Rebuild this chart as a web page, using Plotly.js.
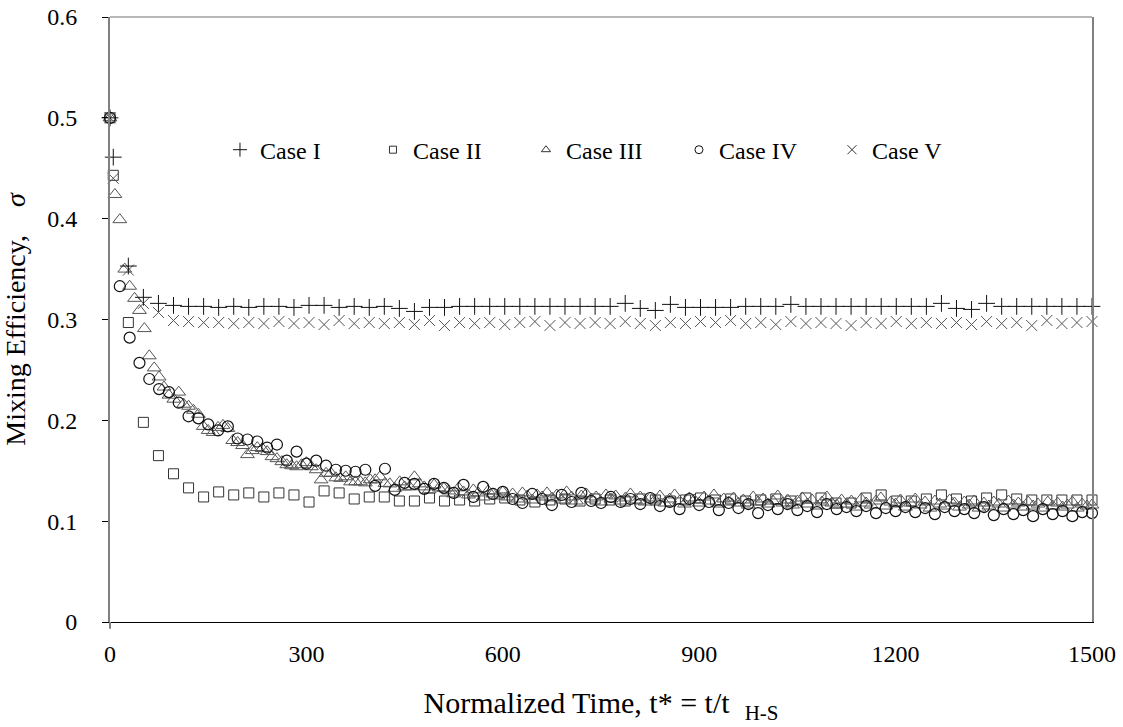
<!DOCTYPE html>
<html>
<head>
<meta charset="utf-8">
<script src="https://cdn.plot.ly/plotly-3.0.1.min.js"></script>
<style>html,body{margin:0;padding:0;background:#fff;}#chart{width:1123px;height:727px;}</style>
</head>
<body>
<div id="chart"></div>
<script>
// Sample times (normalized time t*) for Cases I, II and V
var timeA = [0, 5, 28, 51, 74, 97, 120, 143, 166, 189, 212, 235, 258, 281, 304, 327, 350, 373, 396, 419, 442, 465, 488, 511, 534, 557, 580, 603, 626, 649, 672, 695, 718, 741, 764, 787, 810, 833, 856, 879, 902, 925, 948, 971, 994, 1017, 1040, 1063, 1086, 1109, 1132, 1155, 1178, 1201, 1224, 1247, 1270, 1293, 1316, 1339, 1362, 1385, 1408, 1431, 1454, 1477, 1500];

// Sample times for Case IV
var timeB = [0, 15, 30, 45, 60, 75, 90, 105, 120, 135, 150, 165, 180, 195, 210, 225, 240, 255, 270, 285, 300, 315, 330, 345, 360, 375, 390, 405, 420, 435, 450, 465, 480, 495, 510, 525, 540, 555, 570, 585, 600, 615, 630, 645, 660, 675, 690, 705, 720, 735, 750, 765, 780, 795, 810, 825, 840, 855, 870, 885, 900, 915, 930, 945, 960, 975, 990, 1005, 1020, 1035, 1050, 1065, 1080, 1095, 1110, 1125, 1140, 1155, 1170, 1185, 1200, 1215, 1230, 1245, 1260, 1275, 1290, 1305, 1320, 1335, 1350, 1365, 1380, 1395, 1410, 1425, 1440, 1455, 1470, 1485, 1500];

// Sample times for Case III
var timeC = [0, 7.5, 15, 22.5, 30, 37.5, 45, 52.5, 60, 67.5, 75, 82.5, 90, 97.5, 105, 112.5, 120, 127.5, 135, 142.5, 150, 157.5, 165, 172.5, 180, 187.5, 195, 202.5, 210, 217.5, 225, 232.5, 240, 247.5, 255, 262.5, 270, 277.5, 285, 292.5, 300, 307.5, 315, 322.5, 330, 337.5, 345, 352.5, 360, 367.5, 375, 382.5, 390, 397.5, 405, 412.5, 420, 427.5, 435, 442.5, 450, 457.5, 465, 472.5, 480, 487.5, 495, 502.5, 510, 517.5, 525, 532.5, 540, 547.5, 555, 562.5, 570, 577.5, 585, 592.5, 600, 607.5, 615, 622.5, 630, 637.5, 645, 652.5, 660, 667.5, 675, 682.5, 690, 697.5, 705, 712.5, 720, 727.5, 735, 742.5, 750, 757.5, 765, 772.5, 780, 787.5, 795, 802.5, 810, 817.5, 825, 832.5, 840, 847.5, 855, 862.5, 870, 877.5, 885, 892.5, 900, 907.5, 915, 922.5, 930, 937.5, 945, 952.5, 960, 967.5, 975, 982.5, 990, 997.5, 1005, 1012.5, 1020, 1027.5, 1035, 1042.5, 1050, 1057.5, 1065, 1072.5, 1080, 1087.5, 1095, 1102.5, 1110, 1117.5, 1125, 1132.5, 1140, 1147.5, 1155, 1162.5, 1170, 1177.5, 1185, 1192.5, 1200, 1207.5, 1215, 1222.5, 1230, 1237.5, 1245, 1252.5, 1260, 1267.5, 1275, 1282.5, 1290, 1297.5, 1305, 1312.5, 1320, 1327.5, 1335, 1342.5, 1350, 1357.5, 1365, 1372.5, 1380, 1387.5, 1395, 1402.5, 1410, 1417.5, 1425, 1432.5, 1440, 1447.5, 1455, 1462.5, 1470, 1477.5, 1485, 1492.5, 1500];

var caseI = [0.500, 0.461, 0.353, 0.322, 0.316, 0.314, 0.313, 0.313, 0.312, 0.313, 0.312, 0.313, 0.313, 0.312, 0.314, 0.314, 0.312, 0.313, 0.312, 0.313, 0.311, 0.308, 0.312, 0.312, 0.313, 0.313, 0.313, 0.313, 0.313, 0.313, 0.313, 0.313, 0.313, 0.313, 0.313, 0.316, 0.311, 0.309, 0.315, 0.312, 0.312, 0.312, 0.312, 0.313, 0.313, 0.313, 0.315, 0.313, 0.313, 0.313, 0.313, 0.313, 0.313, 0.313, 0.313, 0.313, 0.316, 0.311, 0.310, 0.316, 0.313, 0.313, 0.313, 0.313, 0.313, 0.313, 0.313];

var caseII = [0.500, 0.443, 0.297, 0.198, 0.165, 0.147, 0.133, 0.124, 0.129, 0.126, 0.128, 0.124, 0.128, 0.126, 0.119, 0.130, 0.128, 0.122, 0.124, 0.124, 0.120, 0.120, 0.123, 0.120, 0.121, 0.120, 0.122, 0.123, 0.121, 0.119, 0.121, 0.122, 0.120, 0.122, 0.121, 0.120, 0.122, 0.121, 0.120, 0.121, 0.123, 0.121, 0.122, 0.120, 0.121, 0.122, 0.120, 0.123, 0.123, 0.118, 0.118, 0.123, 0.126, 0.120, 0.120, 0.122, 0.126, 0.122, 0.120, 0.123, 0.126, 0.122, 0.121, 0.121, 0.121, 0.121, 0.121];

var caseIII = [0.500, 0.424, 0.399, 0.350, 0.333, 0.321, 0.309, 0.291, 0.264, 0.252,
  0.243, 0.233, 0.225, 0.221, 0.228, 0.216, 0.214, 0.210, 0.206, 0.194,
  0.190, 0.188, 0.193, 0.195, 0.192, 0.180, 0.178, 0.175, 0.166, 0.170,
  0.173, 0.172, 0.169, 0.164, 0.162, 0.159, 0.156, 0.155, 0.154, 0.156,
  0.158, 0.154, 0.151, 0.141, 0.1475, 0.1475, 0.143, 0.1425, 0.144, 0.139,
  0.139, 0.139, 0.138, 0.141, 0.141, 0.144, 0.1375, 0.137, 0.1326, 0.139,
  0.134, 0.134, 0.144, 0.137, 0.134, 0.131, 0.136, 0.133, 0.1326,
  0.130, 0.127, 0.133, 0.129, 0.126, 0.131, 0.128, 0.124, 0.130, 0.127,
  0.125, 0.129, 0.124, 0.127, 0.122, 0.128, 0.125, 0.121, 0.126, 0.124,
  0.128, 0.123, 0.126, 0.121, 0.129, 0.124, 0.120, 0.125, 0.127, 0.122,
  0.124, 0.119, 0.126, 0.122, 0.125, 0.120, 0.123, 0.127, 0.121, 0.124,
  0.119, 0.123, 0.121, 0.125, 0.118, 0.122, 0.126, 0.120, 0.117, 0.123,
  0.121, 0.118, 0.124, 0.120, 0.126, 0.117, 0.122, 0.119, 0.123, 0.118,
  0.121, 0.116, 0.124, 0.119, 0.122, 0.117, 0.120, 0.125, 0.118, 0.121,
  0.116, 0.120, 0.123, 0.117, 0.121, 0.115, 0.119, 0.124, 0.118, 0.116,
  0.121, 0.117, 0.120, 0.114, 0.122, 0.118, 0.116, 0.120, 0.123, 0.115,
  0.119, 0.117, 0.121, 0.114, 0.118, 0.122, 0.116, 0.119, 0.113, 0.120,
  0.117, 0.115, 0.121, 0.118, 0.114, 0.119, 0.116, 0.120, 0.113, 0.118,
  0.115, 0.119, 0.117, 0.113, 0.120, 0.116, 0.118, 0.114, 0.119, 0.115,
  0.117, 0.113, 0.119, 0.115, 0.118, 0.114, 0.116, 0.119, 0.113, 0.117,
  0.115, 0.116];

var caseIV = [0.500, 0.333, 0.282, 0.257, 0.241, 0.231, 0.228, 0.2175, 0.204, 0.202,
  0.196, 0.190, 0.194, 0.182, 0.181, 0.179, 0.173, 0.176, 0.160, 0.169,
  0.157, 0.160, 0.155, 0.151, 0.150, 0.149, 0.151, 0.135, 0.152, 0.131,
  0.138, 0.137, 0.132, 0.137,
  0.133, 0.128, 0.136, 0.124, 0.134, 0.127, 0.129, 0.122, 0.118, 0.127,
  0.122, 0.116, 0.126, 0.119, 0.128, 0.120, 0.118, 0.124, 0.119, 0.122,
  0.117, 0.123, 0.115, 0.119, 0.112, 0.122, 0.116, 0.119, 0.111, 0.118,
  0.113, 0.117, 0.108, 0.116, 0.112, 0.117, 0.111, 0.115, 0.109, 0.117,
  0.112, 0.114, 0.110, 0.115, 0.108, 0.113, 0.110, 0.114, 0.109, 0.113,
  0.107, 0.114, 0.110, 0.112, 0.108, 0.114, 0.106, 0.112, 0.107, 0.111,
  0.105, 0.112, 0.107, 0.110, 0.105, 0.109, 0.108];

var caseV = [0.500, 0.440, 0.349, 0.316, 0.307, 0.299, 0.298, 0.297, 0.297, 0.296, 0.297, 0.296, 0.298, 0.296, 0.297, 0.295, 0.299, 0.296, 0.297, 0.296, 0.297, 0.295, 0.299, 0.294, 0.297, 0.296, 0.297, 0.295, 0.297, 0.298, 0.294, 0.297, 0.296, 0.297, 0.296, 0.298, 0.296, 0.294, 0.297, 0.296, 0.298, 0.297, 0.299, 0.296, 0.297, 0.295, 0.298, 0.296, 0.297, 0.296, 0.294, 0.297, 0.296, 0.298, 0.296, 0.297, 0.296, 0.297, 0.295, 0.298, 0.296, 0.297, 0.294, 0.299, 0.296, 0.297, 0.298];

var seriesNames = ['Case I', 'Case II', 'Case III', 'Case IV', 'Case V'];

var FONT = 'Liberation Serif, Times New Roman, serif';

function dataTrace(x, y, symbol, size, color, lw) {
  return {
    type: 'scatter', mode: 'markers', x: x, y: y, showlegend: false,
    cliponaxis: false, hoverinfo: 'skip',
    marker: {symbol: symbol, size: size, color: color, line: {color: color, width: lw}}
  };
}
function legendTrace(name, symbol, size, color, lw) {
  return {
    type: 'scatter', mode: 'markers', x: [null], y: [null], name: name, showlegend: true,
    marker: {symbol: symbol, size: size, color: color, line: {color: color, width: lw}}
  };
}

var traces = [
  dataTrace(timeA, caseII, 'square-open', 10, '#333333', 1),
  dataTrace(timeC, caseIII, 'triangle-up-open', 12, '#555555', 1),
  dataTrace(timeB, caseIV, 'circle-open', 11, '#111111', 1.2),
  dataTrace(timeA, caseV, 'x-thin', 11, '#555555', 1),
  dataTrace(timeA, caseI, 'cross-thin', 12, '#111111', 1),
  legendTrace(seriesNames[0], 'cross-thin', 10, '#111111', 1),
  legendTrace(seriesNames[1], 'square-open', 7, '#333333', 1),
  legendTrace(seriesNames[2], 'triangle-up-open', 8, '#333333', 1),
  legendTrace(seriesNames[3], 'circle-open', 8, '#111111', 1),
  legendTrace(seriesNames[4], 'x-thin', 9, '#333333', 1)
];

var xTitle = '<span style="font-family:Times New Roman,serif;font-size:30px">Normalized Time, t* = t/t&#160;&#160;<sub>H-S</sub></span>';
var yTitle = '<span style="font-family:Times New Roman,serif;font-size:28px">Mixing Efficiency,&#160;&#160;&#160;&#160;<i>σ</i></span>';

var layout = {
  width: 1123, height: 727,
  margin: {l: 110, r: 31, t: 17, b: 105},
  paper_bgcolor: '#ffffff', plot_bgcolor: '#ffffff',
  font: {family: FONT, size: 24, color: '#000'},
  showlegend: true,
  legend: {
    orientation: 'h', x: 0.112, y: 0.78, xanchor: 'left', yanchor: 'middle',
    font: {family: FONT, size: 24, color: '#000'},
    bgcolor: 'rgba(0,0,0,0)', borderwidth: 0,
    itemwidth: 30, entrywidth: 108, entrywidthmode: 'pixels',
    traceorder: 'normal'
  },
  xaxis: {
    range: [0, 1500], dtick: 300, tick0: 0,
    showgrid: false, zeroline: false,
    showline: true, linecolor: '#000', linewidth: 1,
    ticks: '', ticklabelstandoff: 10,
    tickfont: {family: FONT, size: 24, color: '#000'},
    title: {text: xTitle, font: {family: FONT, size: 30, color: '#000'}, standoff: 26}
  },
  yaxis: {
    range: [0, 0.6], dtick: 0.1, tick0: 0,
    showgrid: false, zeroline: false,
    showline: true, linecolor: '#808080', linewidth: 2, mirror: true,
    ticks: 'outside', ticklen: 6, tickcolor: '#000', tickwidth: 1,
    ticklabelstandoff: 20,
    tickfont: {family: FONT, size: 24, color: '#000'},
    title: {text: yTitle, font: {family: FONT, size: 28, color: '#000'}, standoff: 14}
  },
  shapes: [
    {type: 'line', xref: 'paper', yref: 'paper', x0: 0, x1: 1, y0: 1, y1: 1, line: {color: '#a0a0a0', width: 1.5}},
    {type: 'line', xref: 'paper', yref: 'paper', x0: 0, x1: 0, y0: 0, y1: -0.011, line: {color: '#808080', width: 2}}
  ]
};

Plotly.newPlot('chart', traces, layout, {staticPlot: true, displayModeBar: false});
</script>
</body>
</html>
